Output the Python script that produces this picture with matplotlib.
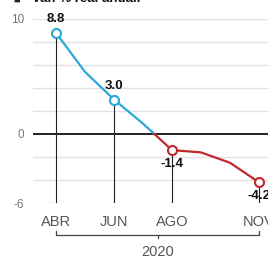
import matplotlib
matplotlib.use("Agg")
import matplotlib.pyplot as plt
import numpy as np

# monthly values, % real annual variation (2020)
months = [4, 5, 6, 7, 8, 9, 10, 11]
values = [8.8, 5.4, 3.0, 0.9, -1.4, -1.6, -2.5, -4.2]

# months that get a marker, label and a drop line
label_months = [4, 6, 8, 11]
month_names = ["ABR", "JUN", "AGO", "NOV"]
year_label = "2020"

blue = "#2aa8d8"
red = "#c1272d"

plt.rcParams['font.family'] = ['Liberation Sans', 'DejaVu Sans']

W, H = 268, 258
fig = plt.figure(figsize=(W / 100, H / 100), dpi=100)

# axes placement from pixel positions
x0, x1 = 32.8, 276.4
y_top, y_bot = 19, 203
ax = fig.add_axes([x0 / W, (H - y_bot) / H, (x1 - x0) / W, (y_bot - y_top) / H])
ax.set_xlim(3.2, 11.6)
ax.set_ylim(-6, 10)
for s in ax.spines.values():
    s.set_visible(False)

# grid
for g in range(-6, 11, 2):
    if g == 0:
        ax.axhline(0, color="#222222", lw=1.4, zorder=2)
    else:
        ax.axhline(g, color="#e2e2e2", lw=1.0, zorder=1)

# drop lines
vals = dict(zip(months, values))
for m in label_months:
    ax.plot([m, m], [-6, vals[m]], color="#222222", lw=0.8, zorder=2)

# split the line where it crosses zero
x = np.array(months, dtype=float)
y = np.array(values)
i = np.where(np.diff(np.sign(y)) != 0)[0][0]
xc = x[i] + (0 - y[i]) * (x[i + 1] - x[i]) / (y[i + 1] - y[i])
xb = np.append(x[:i + 1], xc)
yb = np.append(y[:i + 1], 0)
xr = np.insert(x[i + 1:], 0, xc)
yr = np.insert(y[i + 1:], 0, 0)
ax.plot(xb, yb, color=blue, lw=1.6, zorder=3)
ax.plot(xr, yr, color=red, lw=1.6, zorder=3)

for m in label_months:
    v = vals[m]
    c = blue if v >= 0 else red
    ax.plot(m, v, "o", ms=6.5, mfc="white", mec=c, mew=1.5, zorder=4)
    off = 10 if v >= 0 else -10
    ax.annotate(f"{v:.1f}", (m, v), xytext=(0, off), textcoords="offset points",
                ha="center", va="center", fontsize=9.5, fontweight="bold",
                color="#111111", zorder=5, annotation_clip=False)

# y labels
ax.set_yticks([10, 0, -6])
ax.set_yticklabels(["10", "0", "-6"])
ax.tick_params(axis="y", length=0, pad=6, labelsize=8.5, labelcolor="#777777")

# x labels
ax.set_xticks(label_months)
ax.set_xticklabels(month_names)
ax.tick_params(axis="x", length=0, pad=9, labelsize=10.5, labelcolor="#555555")

# year bracket
ax.plot([months[0], months[0], months[-1], months[-1]], [-8.40, -8.78, -8.78, -8.40],
        color="#444444", lw=0.9, clip_on=False)
mid = (months[0] + months[-1]) / 2
ax.plot([mid, mid], [-8.78, -9.04], color="#444444", lw=0.9, clip_on=False)
ax.text(mid, -10.23, year_label, ha="center", va="center", fontsize=10.5,
        color="#555555", clip_on=False)

# title, cut at the top edge
fig.text(13 / W, 1 - 2.5 / H, "\u25a0", fontsize=8, color="#222222", va="baseline")
fig.text(32 / W, 1 - 2.5 / H, "Var. % real anual.", fontsize=9.5, fontweight="bold",
         color="#111111", va="baseline")

fig.savefig("out.png", dpi=100)
